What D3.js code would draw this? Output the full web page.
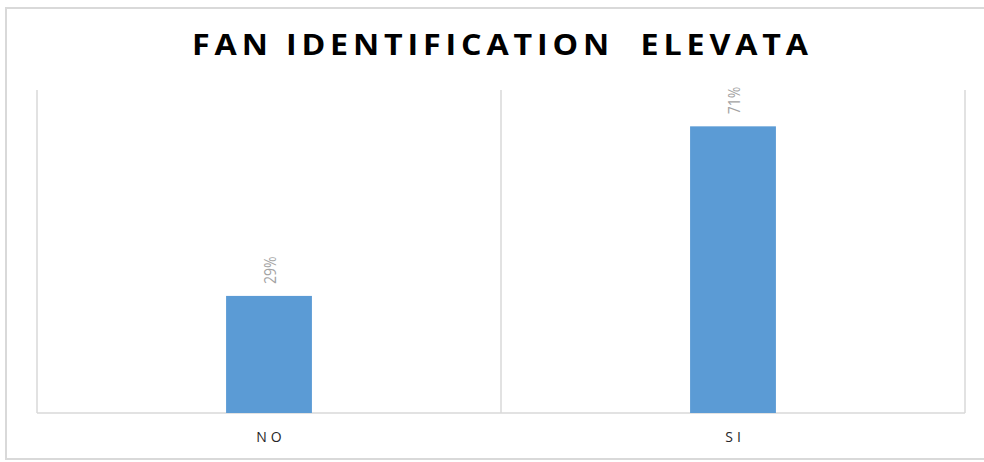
<!DOCTYPE html>
<html>
<head>
<meta charset="utf-8">
<script src="https://cdn.jsdelivr.net/npm/d3@7"></script>
<style>
  html, body { margin: 0; padding: 0; background: #fff; }
  svg { display: block; }
</style>
</head>
<body>
<svg id="chart" width="984" height="462"></svg>
<script>
// Survey answers and their shares
const categories = ["NO", "SI"];
const values = [0.29, 0.71];
const valueLabels = ["29%", "71%"];
const title = "FAN IDENTIFICATION  ELEVATA";

const W = 984, H = 462;
const plot = { left: 37, right: 965, top: 90, bottom: 413 };

const svg = d3.select("#chart");

// Outer frame
svg.append("rect")
  .attr("x", 6).attr("y", 8)
  .attr("width", 990).attr("height", 451)
  .attr("fill", "#fff")
  .attr("stroke", "#d9d9d9").attr("stroke-width", 2);

const x = d3.scaleBand()
  .domain(categories)
  .range([plot.left, plot.right])
  .paddingInner(0).paddingOuter(0);

const y = d3.scaleLinear()
  .domain([0, 0.8])
  .range([plot.bottom, plot.top]);

// Vertical category dividers
const dividers = [plot.left, ...categories.map(c => x(c) + x.bandwidth())];
svg.append("g").selectAll("line")
  .data(dividers)
  .join("line")
  .attr("x1", d => d).attr("x2", d => d)
  .attr("y1", plot.top).attr("y2", plot.bottom)
  .attr("stroke", "#d9d9d9").attr("stroke-width", 1.5);

// Category axis line
svg.append("line")
  .attr("x1", plot.left).attr("x2", plot.right)
  .attr("y1", plot.bottom).attr("y2", plot.bottom)
  .attr("stroke", "#d9d9d9").attr("stroke-width", 1.5);

// Bars
const barW = x.bandwidth() * 0.185;
svg.append("g").selectAll("rect")
  .data(values)
  .join("rect")
  .attr("x", (d, i) => x(categories[i]) + x.bandwidth() / 2 - barW / 2)
  .attr("y", d => y(d))
  .attr("width", barW)
  .attr("height", d => y(0) - y(d))
  .attr("fill", "#5b9bd5");

// Rotated value labels above bars (glyphs widened horizontally on screen)
svg.append("g").selectAll("text")
  .data(values)
  .join("text")
  .attr("transform", (d, i) =>
    `translate(${x(categories[i]) + x.bandwidth() / 2},${y(d) - 12}) rotate(-90) scale(1,1.2)`)
  .attr("text-anchor", "start")
  .attr("dominant-baseline", "central")
  .attr("font-family", "'Open Sans', sans-serif")
  .attr("font-size", 14)
  .attr("fill", "#a3a3a3")
  .text((d, i) => valueLabels[i]);

// Category labels
svg.append("g").selectAll("text")
  .data(categories)
  .join("text")
  .attr("x", d => x(d) + x.bandwidth() / 2 + 2)
  .attr("y", 442)
  .attr("text-anchor", "middle")
  .attr("font-family", "'Open Sans', sans-serif")
  .attr("font-size", 14)
  .attr("letter-spacing", "4px")
  .attr("fill", "#262626")
  .text(d => d);

// Title, bold caps stretched horizontally
const titleScale = 1.15;
svg.append("text")
  .attr("transform", `translate(500,55) scale(${titleScale},1)`)
  .attr("text-anchor", "middle")
  .attr("font-family", "'Open Sans', sans-serif")
  .attr("font-weight", "bold")
  .attr("font-size", 28)
  .attr("textLength", 616 / titleScale)
  .attr("lengthAdjust", "spacing")
  .attr("xml:space", "preserve")
  .attr("fill", "#000")
  .text(title);
</script>
</body>
</html>
